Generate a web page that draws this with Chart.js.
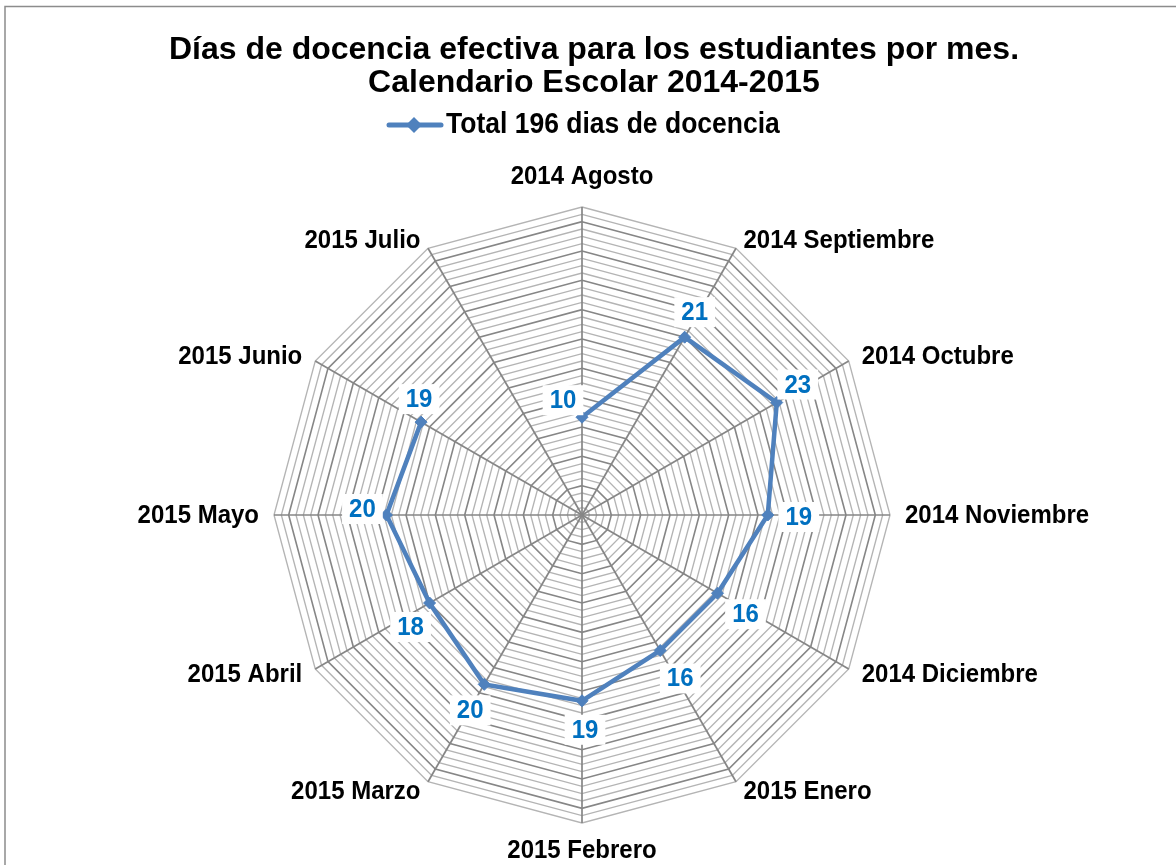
<!DOCTYPE html>
<html>
<head>
<meta charset="utf-8">
<title>Días de docencia efectiva</title>
<script src="https://cdn.jsdelivr.net/npm/chart.js@4.4.1/dist/chart.umd.min.js"></script>
<style>
  html, body { margin: 0; padding: 0; background: #fff; overflow: hidden; }
  #wrap { position: relative; width: 1176px; height: 865px; }
</style>
</head>
<body>
<div id="wrap"><canvas id="radarChart"></canvas></div>
<script>
// Data
const months = [
  "2014 Agosto", "2014 Septiembre", "2014 Octubre", "2014 Noviembre",
  "2014 Diciembre", "2015 Enero", "2015 Febrero", "2015 Marzo",
  "2015 Abril", "2015 Mayo", "2015 Junio", "2015 Julio"
];
const diasDocencia = [10, 21, 23, 19, 16, 16, 19, 20, 18, 20, 19, null];
const seriesName = "Total 196 dias de docencia";
const chartTitle = [
  "Días de docencia efectiva para los estudiantes por mes.",
  "Calendario Escolar 2014-2015"
];
const axisMax = 31.5;
const minorStep = 0.75;
const majorStep = 3;

const FONT = '"Liberation Sans", Arial, sans-serif';
const LINE_BLUE = "#4F81BD";
const LABEL_BLUE = "#0070C0";

// Text a bit taller than wide, like the exported picture
function drawTallText(ctx, text, x, y, stretch) {
  ctx.save();
  ctx.translate(x, y);
  ctx.scale(1, stretch);
  ctx.fillText(text, 0, 0);
  ctx.restore();
}

// White background and the frame lines of the chart box
const framePlugin = {
  id: "frame",
  beforeDraw(chart) {
    const ctx = chart.ctx;
    ctx.save();
    ctx.fillStyle = "#fff";
    ctx.fillRect(0, 0, chart.width, chart.height);
    ctx.strokeStyle = "#8c8c8c";
    ctx.lineWidth = 1.5;
    ctx.beginPath();
    ctx.moveTo(5, chart.height);
    ctx.lineTo(5, 6.5);
    ctx.lineTo(chart.width, 6.5);
    ctx.stroke();
    ctx.restore();
  }
};

// Legend in Excel style: line with a diamond, then the series name
const lineLegendPlugin = {
  id: "lineLegend",
  afterDraw(chart) {
    const ctx = chart.ctx;
    const ds = chart.data.datasets[0];
    const y = 125;
    ctx.save();
    ctx.strokeStyle = ds.borderColor;
    ctx.lineWidth = 5;
    ctx.lineCap = "round";
    ctx.beginPath();
    ctx.moveTo(389, y);
    ctx.lineTo(441, y);
    ctx.stroke();
    ctx.fillStyle = ds.borderColor;
    ctx.beginPath();
    ctx.moveTo(414, y - 8);
    ctx.lineTo(422, y);
    ctx.lineTo(414, y + 8);
    ctx.lineTo(406, y);
    ctx.closePath();
    ctx.fill();
    ctx.fillStyle = "#000";
    ctx.font = "bold 26.5px " + FONT;
    ctx.textAlign = "left";
    ctx.textBaseline = "middle";
    drawTallText(ctx, ds.label, 446, y, 1.08);
    ctx.restore();
  }
};

// Month names around the web, placed from the scale's own point positions
const monthLabelPlugin = {
  id: "monthLabels",
  afterDraw(chart) {
    const scale = chart.scales.r;
    const ctx = chart.ctx;
    ctx.save();
    ctx.font = "bold 24px " + FONT;
    ctx.fillStyle = "#000";
    ctx.textBaseline = "middle";
    chart.data.labels.forEach((label, i) => {
      const angle = scale.getIndexAngle(i);
      const p = scale.getPointPosition(i, scale.drawingArea);
      const s = Math.sin(angle);
      const c = Math.cos(angle);
      if (Math.abs(s) < 0.01) {
        ctx.textAlign = "center";
        drawTallText(ctx, label, p.x, p.y - (c > 0 ? 30 : -28), 1.1);
      } else {
        ctx.textAlign = s > 0 ? "left" : "right";
        drawTallText(ctx, label, p.x + 15 * s, p.y - 10 * c + 1, 1.1);
      }
    });
    ctx.restore();
  }
};

// Value labels in white boxes next to each point
const valueLabelPlugin = {
  id: "valueLabels",
  offsets: [
    [-19, -17], [10, -25], [21, -18], [31, 2], [28, 21], [20, 28],
    [3, 29], [-14, 26], [-19, 24], [-24, -6], [-2, -23], [0, 0]
  ],
  afterDatasetsDraw(chart) {
    const ctx = chart.ctx;
    const meta = chart.getDatasetMeta(0);
    const values = chart.data.datasets[0].data;
    ctx.save();
    ctx.font = "bold 24px " + FONT;
    ctx.textAlign = "center";
    ctx.textBaseline = "middle";
    meta.data.forEach((pt, i) => {
      if (values[i] == null) return;
      const text = String(values[i]);
      const x = pt.x + this.offsets[i][0];
      const y = pt.y + this.offsets[i][1];
      const w = ctx.measureText(text).width + 14;
      ctx.fillStyle = "#fff";
      ctx.fillRect(x - w / 2, y - 15, w, 30);
      ctx.fillStyle = LABEL_BLUE;
      drawTallText(ctx, text, x, y + 1, 1.05);
    });
    ctx.restore();
  }
};

function isMajor(value) {
  const q = value / majorStep;
  return Math.abs(q - Math.round(q)) < 1e-6;
}

function initializeChart() {
  const ctx = document.getElementById("radarChart");

  new Chart(ctx, {
    type: "radar",
    data: {
      labels: months,
      datasets: [
        {
          label: seriesName,
          data: diasDocencia,
          borderColor: LINE_BLUE,
          backgroundColor: "rgba(0,0,0,0)",
          borderWidth: 4.5,
          fill: false,
          spanGaps: false,
          pointStyle: "rectRot",
          pointRadius: 6,
          pointBorderWidth: 1,
          pointBackgroundColor: LINE_BLUE,
          pointBorderColor: LINE_BLUE,
        },
      ],
    },
    options: {
      responsive: true,
      maintainAspectRatio: false,
      animation: false,
      layout: {
        padding: { top: 0, bottom: 42, left: 12, right: 0 },
      },
      plugins: {
        legend: { display: false },
        tooltip: { enabled: false },
        title: {
          display: true,
          text: chartTitle,
          color: "#000",
          font: { family: FONT, size: 32, weight: "bold", lineHeight: 33 / 32 },
          padding: { top: 33.5, bottom: 107.5 },
        },
      },
      scales: {
        r: {
          min: 0,
          max: axisMax,
          ticks: { display: false, stepSize: minorStep },
          pointLabels: { display: false },
          angleLines: { display: true, color: "#868686", lineWidth: 1.7 },
          grid: {
            circular: false,
            color: (c) => (isMajor(c.tick.value) ? "#868686" : "#b4b4b4"),
            lineWidth: (c) => (isMajor(c.tick.value) ? 1.6 : 1.35),
          },
          // title is centred on the full box, the web sits a little left of it
          afterFit: (scale) => {
            scale.xCenter -= 12;
          },
        },
      },
    },
    plugins: [framePlugin, lineLegendPlugin, monthLabelPlugin, valueLabelPlugin],
  });
}

document.addEventListener("DOMContentLoaded", function () {
  initializeChart();
});
</script>
</body>
</html>
